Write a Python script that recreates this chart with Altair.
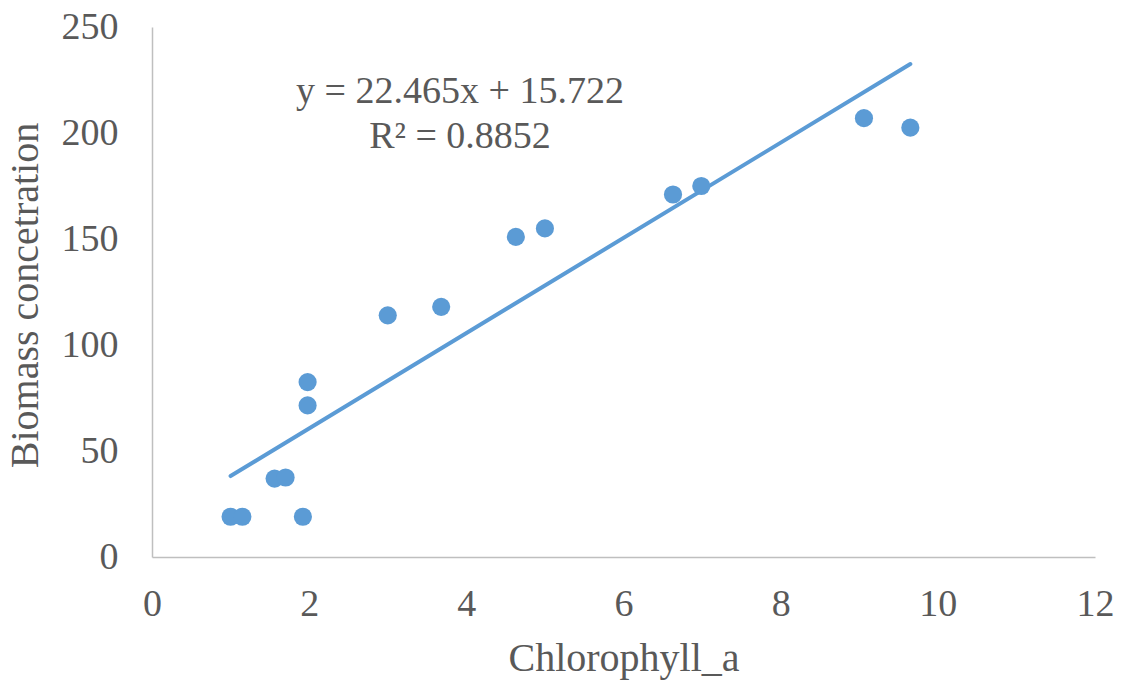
import altair as alt
import pandas as pd

# Measured samples
chlorophyll_a = [1.0, 1.15, 1.56, 1.7, 1.92, 1.98, 1.98, 3.0, 3.68, 4.63, 5.0, 6.63, 6.99, 9.06, 9.65]
biomass = [19, 19, 37, 37.5, 19, 82.5, 71.5, 114, 118, 151, 155, 171, 175, 207, 202.5]

# Linear trendline reported for the samples
slope = 22.465
intercept = 15.722
r_squared = 0.8852

FONT = "Liberation Serif"
TEXT = "#595959"
BLUE = "#5b9bd5"

points = pd.DataFrame({"chl": chlorophyll_a, "bio": biomass})
x_ends = [min(chlorophyll_a), max(chlorophyll_a)]
trend = pd.DataFrame({"chl": x_ends, "bio": [slope * v + intercept for v in x_ends]})

x_enc = alt.X(
    "chl:Q",
    scale=alt.Scale(domain=[0, 12], nice=False),
    axis=alt.Axis(
        title="Chlorophyll_a",
        values=[0, 2, 4, 6, 8, 10, 12],
        format="d",
        grid=False,
        ticks=False,
        labelFlush=False,
        labelPadding=28,
        titleY=81,
        titleBaseline="top",
    ),
)
y_enc = alt.Y(
    "bio:Q",
    scale=alt.Scale(domain=[0, 250], nice=False),
    axis=alt.Axis(
        title="Biomass concetration",
        values=[0, 50, 100, 150, 200, 250],
        format="d",
        grid=False,
        ticks=False,
        labelFlush=False,
        labelPadding=34,
        titleX=-127,
        titleY=268,
        titleAngle=270,
        titleAlign="center",
        titleBaseline="middle",
    ),
)

scatter = alt.Chart(points).mark_circle(size=330, opacity=1, color=BLUE).encode(x=x_enc, y=y_enc)

line = alt.Chart(trend).mark_line(color=BLUE, strokeWidth=4, strokeCap="round").encode(
    x=x_enc, y=y_enc
)


def annotation(text, y_px):
    return alt.Chart(pd.DataFrame({"txt": [text]})).mark_text(
        font=FONT, fontSize=38, color=TEXT, align="center", baseline="alphabetic"
    ).encode(x=alt.value(308), y=alt.value(y_px), text="txt:N")


eq_line = annotation(f"y = {slope}x + {intercept}", 76)
r2_line = annotation(f"R\u00b2 = {r_squared}", 121)

chart = (
    alt.layer(line, scatter, eq_line, r2_line)
    .properties(
        width=943,
        height=530,
        autosize=alt.AutoSizeParams(type="none"),
        padding={"left": 152, "top": 27, "right": 33, "bottom": 132},
    )
    .configure_view(stroke=None)
    .configure_axis(
        labelFont=FONT,
        labelFontSize=38,
        labelColor=TEXT,
        titleFont=FONT,
        titleFontSize=40,
        titleColor=TEXT,
        titleFontWeight="normal",
        domainColor="#bfbfbf",
        domainWidth=1.5,
    )
)

chart.save("out.html", embed_options={"renderer": "svg", "actions": False})
